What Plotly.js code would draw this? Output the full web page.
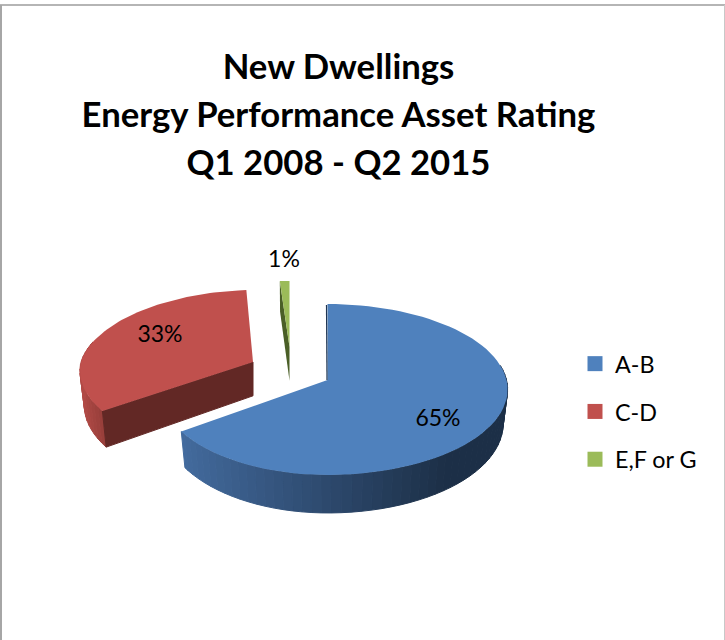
<!DOCTYPE html>
<html>
<head>
<meta charset="utf-8">
<script src="https://cdn.plot.ly/plotly-3.0.1.min.js"></script>
<style>html,body{margin:0;padding:0;background:#fff}#chart{width:725px;height:640px}</style>
</head>
<body>
<div id="chart"></div>
<script>
// Data
var categories = ["A-B", "C-D", "E,F or G"];
var shares = [65.3, 33.4, 1.3];
var topColors = ["#4f81bd", "#c0504d", "#9bbb59"];
var faceColors = ["#1f3552", "#622825", "#4a5f27"];

// Pie projection (screen space of the hidden axes)
var FONT = "Lato, 'Open Sans', sans-serif";
var RX_RIGHT = 179, RY = 84.4, PERSP = 0.111, DEPTH = 33.8, SHRINK = 0.975;
var rxLeft = [167, 172, 132];
var apexes = [[327.5, 380], [253, 362], [289.5, 347]];
var scales = [[1, 1], [1, 0.95], [1, 0.87]];
var skews = [0, 6, 0];
var labelAnchors = [[438, 420], [160, 336], [284, 261]];
var total = shares.reduce(function (a, b) { return a + b; }, 0);

function rim(i, deg) {
  var t = deg * Math.PI / 180, s = Math.sin(t), c = Math.cos(t), d = 1 + PERSP * c;
  var rx = s < 0 ? rxLeft[i] : RX_RIGHT;
  return [apexes[i][0] + scales[i][0] * rx * s / d + skews[i] * Math.max(c, 0), apexes[i][1] - scales[i][1] * RY * c / d, d];
}
function low(i, p) {
  return [apexes[i][0] + (p[0] - apexes[i][0]) * SHRINK, p[1] + DEPTH / p[2]];
}
function poly(points, color, lineW) {
  return {
    type: "scatter", mode: "lines", fill: "toself", fillcolor: color,
    x: points.map(function (p) { return p[0]; }), y: points.map(function (p) { return p[1]; }),
    line: { color: color, width: lineW || 0 }, showlegend: false, hoverinfo: "skip"
  };
}
function mix(a, b, f) {
  f = Math.max(0, Math.min(1, f));
  return "rgb(" + [0, 1, 2].map(function (k) { return Math.round(a[k] + (b[k] - a[k]) * f); }).join(",") + ")";
}
function side(i, from, to, colorAt) {
  var out = [];
  for (var a = from; a < to; a += 3) {
    var b = Math.min(a + 3, to), p = rim(i, a), q = rim(i, b);
    var col = colorAt(p[0]);
    out.push(poly([p, q, low(i, q), low(i, p), p], col, 1));
  }
  return out;
}
function topFace(i, from, to) {
  var pts = [apexes[i].slice(0, 2)];
  for (var a = from; a <= to + 1e-6; a += Math.max((to - from) / 80, 0.5)) pts.push(rim(i, a));
  pts.push(rim(i, to));
  pts.push(apexes[i].slice(0, 2));
  return poly(pts, topColors[i]);
}

var starts = [], ends = [], acc = 0;
shares.forEach(function (v) { starts.push(acc / total * 360); acc += v; ends.push(acc / total * 360); });

var traces = [];
// C-D slice
traces = traces.concat(side(1, starts[1], 285, function (x) {
  return mix([150, 62, 58], [178, 74, 70], (105 - x) / 25);
}));
var r0 = rim(1, starts[1]);
traces.push(poly([apexes[1], r0, low(1, r0), low(1, [apexes[1][0], apexes[1][1], 1]), apexes[1]], faceColors[1], 1));
traces.push(topFace(1, starts[1], ends[1]));
// E,F or G slice
var g0 = rim(2, starts[2]);
traces.push(poly([apexes[2], g0, low(2, g0), low(2, [apexes[2][0], apexes[2][1], 1]), apexes[2]], faceColors[2]));
traces.push(topFace(2, starts[2], ends[2]));
// A-B slice
traces = traces.concat(side(0, 80, ends[0], function (x) {
  return mix([28, 47, 71], [67, 107, 158], (450 - x) / 270);
}));
traces.push(topFace(0, starts[0], ends[0]));
var b0 = rim(0, 0);
traces.push({
  type: "scatter", mode: "lines", x: [b0[0] - 1, apexes[0][0] - 0.5], y: [b0[1] + 1, apexes[0][1]],
  line: { color: faceColors[0], width: 1.2 }, showlegend: false, hoverinfo: "skip"
});
// data labels
traces.push({
  type: "scatter", mode: "text",
  x: labelAnchors.map(function (p) { return p[0]; }), y: labelAnchors.map(function (p) { return p[1]; }),
  text: shares.map(function (v) { return Math.round(v / total * 100) + "%"; }),
  textposition: "middle center", textfont: { family: FONT, size: 23, color: "#000" },
  showlegend: false, hoverinfo: "skip"
});
// legend entries
categories.forEach(function (c, i) {
  traces.push({
    type: "scatter", mode: "markers", name: c, x: [null], y: [null], legendgroup: c,
    marker: { symbol: "square", size: 15, color: topColors[i] }
  });
});

function titleLine(s) { return '<span style="font-size:34.7px">' + s + "</span>"; }
var layout = {
  width: 725, height: 640, autosize: false,
  margin: { l: 0, r: 0, t: 0, b: 0 },
  paper_bgcolor: "#fff", plot_bgcolor: "#fff",
  title: {
    text: ["New Dwellings", "Energy Performance Asset Rating", "Q1 2008 - Q2 2015"].map(titleLine).join("<br>"),
    font: { family: FONT, size: 36.9, color: "#000", weight: 700 },
    x: 338.5 / 725, xanchor: "center", xref: "paper",
    y: 1 - 79 / 640, yanchor: "top", yref: "container"
  },
  xaxis: { visible: false, range: [0, 725], domain: [0, 1], fixedrange: true },
  yaxis: { visible: false, range: [640, 0], domain: [0, 1], fixedrange: true },
  legend: {
    x: 575 / 725, xanchor: "left", y: 1 - 342 / 640, yanchor: "top",
    bgcolor: "rgba(0,0,0,0)", font: { family: FONT, size: 23.3, color: "#000" },
    tracegroupgap: 14.5, traceorder: "grouped", itemclick: false, itemdoubleclick: false
  },
  shapes: [
    { type: "line", xref: "paper", yref: "paper", x0: 0, x1: 1, y0: 1 - 5 / 640, y1: 1 - 5 / 640, line: { color: "#b5b5b5", width: 2 } },
    { type: "line", xref: "paper", yref: "paper", x0: 1 / 725, x1: 1 / 725, y0: 0, y1: 1 - 5 / 640, line: { color: "#a6a6a6", width: 2 } },
    { type: "line", xref: "paper", yref: "paper", x0: 724.5 / 725, x1: 724.5 / 725, y0: 0, y1: 1 - 5 / 640, line: { color: "#c8c8c8", width: 1 } }
  ],
  showlegend: true
};
Plotly.newPlot("chart", traces, layout, { displayModeBar: false, responsive: false });
</script>
</body>
</html>
